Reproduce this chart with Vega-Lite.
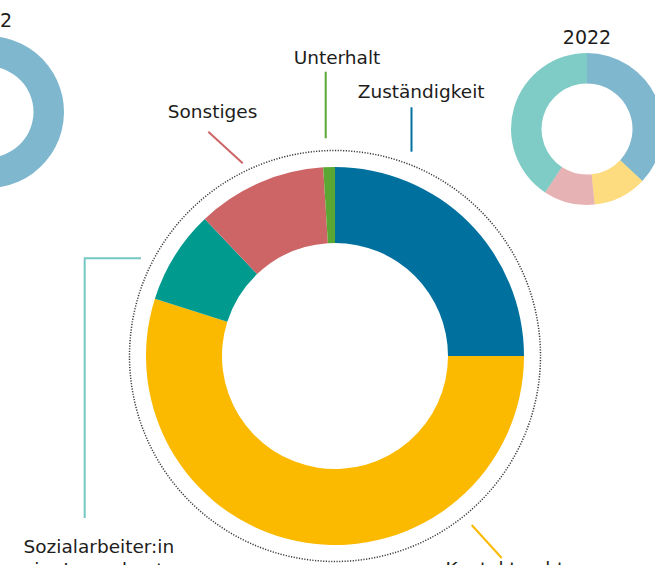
{
  "$schema": "https://vega.github.io/schema/vega-lite/v6.json",
  "width": 655,
  "height": 565,
  "autosize": "none",
  "padding": 0,
  "background": "white",
  "config": {"view": {"stroke": null}, "text": {"font": "DejaVu Sans", "fontSize": 18.5, "color": "#1d1d1b"}},
  "data": {"values": [
    {"jahr": 2023, "nr": 1, "kategorie": "Zuständigkeit", "anteil": 25.0},
    {"jahr": 2023, "nr": 2, "kategorie": "Kontaktrecht", "anteil": 54.9},
    {"jahr": 2023, "nr": 3, "kategorie": "Sozialarbeiter:in\nim Jugendamt", "anteil": 8.0},
    {"jahr": 2023, "nr": 4, "kategorie": "Sonstiges", "anteil": 11.1},
    {"jahr": 2023, "nr": 5, "kategorie": "Unterhalt", "anteil": 1.0},
    {"jahr": 2022, "nr": 1, "kategorie": "Zuständigkeit", "anteil": 37.0},
    {"jahr": 2022, "nr": 2, "kategorie": "Kontaktrecht", "anteil": 11.4},
    {"jahr": 2022, "nr": 3, "kategorie": "Sonstiges", "anteil": 10.9},
    {"jahr": 2022, "nr": 4, "kategorie": "Sozialarbeiter:in\nim Jugendamt", "anteil": 40.7},
    {"jahr": 2012, "nr": 1, "kategorie": "Zuständigkeit", "anteil": 58.0},
    {"jahr": 2012, "nr": 2, "kategorie": "Kontaktrecht", "anteil": 20.0},
    {"jahr": 2012, "nr": 3, "kategorie": "Sozialarbeiter:in\nim Jugendamt", "anteil": 11.0},
    {"jahr": 2012, "nr": 4, "kategorie": "Sonstiges", "anteil": 10.0},
    {"jahr": 2012, "nr": 5, "kategorie": "Unterhalt", "anteil": 1.0}
  ]},
  "transform": [
    {"stack": "anteil", "groupby": ["jahr"], "sort": [{"field": "nr", "order": "ascending"}], "as": ["t0", "t1"], "offset": "normalize"}
  ],
  "encoding": {
    "x": {"field": "jahr", "type": "quantitative", "axis": null, "scale": {"domain": [2012, 2022, 2023], "range": [-12, 587, 335], "zero": false, "nice": false}},
    "y": {"field": "jahr", "type": "quantitative", "axis": null, "scale": {"domain": [2012, 2022, 2023], "range": [112, 129, 356], "zero": false, "nice": false}},
    "color": {"field": "kategorie", "type": "nominal", "legend": null,
      "scale": {"domain": ["Zuständigkeit", "Kontaktrecht", "Sozialarbeiter:in\nim Jugendamt", "Sonstiges", "Unterhalt"],
                "range": ["#00709f", "#fbb900", "#009a8f", "#cd6567", "#5aa733"]}}
  },
  "layer": [
    {
      "transform": [{"filter": "datum.jahr == 2023 && datum.nr == 1"}],
      "mark": {"type": "arc", "filled": false, "stroke": "#3a3a3a", "strokeWidth": 1.5, "strokeDash": [1.2, 1.5], "innerRadius": 0, "outerRadius": 205.5},
      "encoding": {
        "color": {"value": "#3a3a3a"},
        "theta": {"datum": 0, "type": "quantitative", "scale": {"domain": [0, 1]}},
        "theta2": {"datum": 1}
      }
    },
    {
      "transform": [{"filter": "datum.jahr == 2023"}],
      "mark": {"type": "arc", "innerRadius": 113, "outerRadius": 189},
      "encoding": {
        "theta": {"field": "t0", "type": "quantitative", "scale": {"domain": [0, 1]}},
        "theta2": {"field": "t1"}
      }
    },
    {
      "transform": [{"filter": "datum.jahr != 2023"}],
      "mark": {"type": "arc", "innerRadius": 45.5, "outerRadius": 76, "opacity": 0.5},
      "encoding": {
        "theta": {"field": "t0", "type": "quantitative", "scale": {"domain": [0, 1]}},
        "theta2": {"field": "t1"}
      }
    },
    {
      "transform": [{"filter": "datum.jahr != 2023 && datum.nr == 1"}],
      "mark": {"type": "text", "dy": -91.5, "fontSize": 19, "baseline": "middle", "align": "center"},
      "encoding": {"text": {"field": "jahr", "type": "nominal"}, "color": {"value": "#1d1d1b"}}
    },
    {
      "transform": [{"filter": "datum.jahr == 2023 && datum.nr == 1"}],
      "layer": [
        {"mark": {"type": "rule", "strokeWidth": 2, "xOffset": 76.5, "x2Offset": 76.5, "yOffset": -248.7, "y2Offset": -204.3},
         "encoding": {"x2": {"field": "jahr"}, "y2": {"field": "jahr"}}},
        {"mark": {"type": "text", "radius": 277.3, "thetaOffset": 0.3159, "baseline": "middle", "align": "center"},
         "encoding": {"theta": {"field": "t0", "type": "quantitative", "scale": {"domain": [0, 1]}}, "text": {"field": "kategorie"}, "color": {"value": "#1d1d1b"}}}
      ]
    },
    {
      "transform": [{"filter": "datum.jahr == 2023 && datum.nr == 2"}],
      "layer": [
        {"mark": {"type": "rule", "strokeWidth": 2, "xOffset": 136.7, "x2Offset": 166.7, "yOffset": 169, "y2Offset": 202},
         "encoding": {"x2": {"field": "jahr"}, "y2": {"field": "jahr"}}},
        {"mark": {"type": "text", "radius": 277.2, "thetaOffset": 0.9111, "baseline": "alphabetic", "align": "center"},
         "encoding": {"theta": {"field": "t0", "type": "quantitative", "scale": {"domain": [0, 1]}}, "text": {"field": "kategorie"}, "color": {"value": "#1d1d1b"}}}
      ]
    },
    {
      "transform": [{"filter": "datum.jahr == 2023 && datum.nr == 3"}],
      "layer": [
        {"mark": {"type": "rule", "strokeWidth": 2, "opacity": 0.55, "xOffset": -194, "x2Offset": -251.3, "yOffset": -97.7, "y2Offset": -97.7},
         "encoding": {"x2": {"field": "jahr"}, "y2": {"field": "jahr"}}},
        {"mark": {"type": "rule", "strokeWidth": 2, "opacity": 0.55, "xOffset": -250.3, "x2Offset": -250.3, "yOffset": -96.7, "y2Offset": 162},
         "encoding": {"x2": {"field": "jahr"}, "y2": {"field": "jahr"}}},
        {"mark": {"type": "text", "radius": 307.8, "thetaOffset": -1.0043, "baseline": "alphabetic", "align": "center", "lineBreak": "\n", "lineHeight": 23},
         "encoding": {"theta": {"field": "t0", "type": "quantitative", "scale": {"domain": [0, 1]}}, "text": {"field": "kategorie"}, "color": {"value": "#1d1d1b"}}}
      ]
    },
    {
      "transform": [{"filter": "datum.jahr == 2023 && datum.nr == 4"}],
      "layer": [
        {"mark": {"type": "rule", "strokeWidth": 2, "xOffset": -126.7, "x2Offset": -92.3, "yOffset": -224.3, "y2Offset": -192.7},
         "encoding": {"x2": {"field": "jahr"}, "y2": {"field": "jahr"}}},
        {"mark": {"type": "text", "radius": 272.6, "thetaOffset": 0.2943, "baseline": "middle", "align": "center"},
         "encoding": {"theta": {"field": "t0", "type": "quantitative", "scale": {"domain": [0, 1]}}, "text": {"field": "kategorie"}, "color": {"value": "#1d1d1b"}}}
      ]
    },
    {
      "transform": [{"filter": "datum.jahr == 2023 && datum.nr == 5"}],
      "layer": [
        {"mark": {"type": "rule", "strokeWidth": 2, "xOffset": -9.3, "x2Offset": -9.3, "yOffset": -284.3, "y2Offset": -217.7},
         "encoding": {"x2": {"field": "jahr"}, "y2": {"field": "jahr"}}},
        {"mark": {"type": "text", "radius": 298.5, "thetaOffset": 0.0695, "baseline": "middle", "align": "center"},
         "encoding": {"theta": {"field": "t0", "type": "quantitative", "scale": {"domain": [0, 1]}}, "text": {"field": "kategorie"}, "color": {"value": "#1d1d1b"}}}
      ]
    }
  ]
}
